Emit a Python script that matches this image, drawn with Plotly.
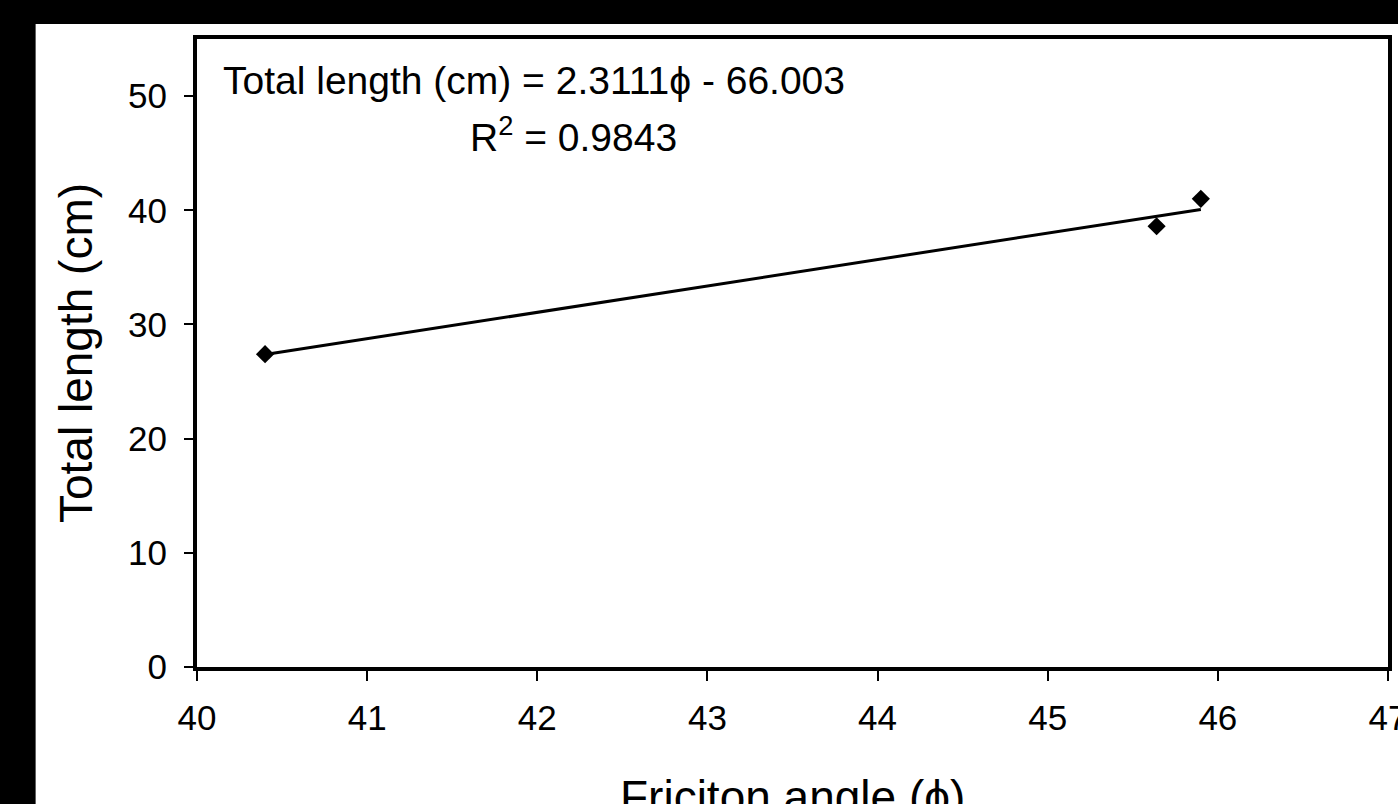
import plotly.graph_objects as go

# Data
friction_angle = [40.4, 45.64, 45.9]
total_length = [27.4, 38.6, 41.0]

# Trend line as reported in the chart
slope = 2.3111
intercept = -66.003
r_squared = 0.9843
trend_x = [min(friction_angle), max(friction_angle)]
trend_y = [slope * x + intercept for x in trend_x]

x_ticks = [40, 41, 42, 43, 44, 45, 46, 47]
y_ticks = [0, 10, 20, 30, 40, 50]

FONT = "Liberation Sans, Arial, sans-serif"

fig = go.Figure()
fig.add_trace(go.Scatter(x=trend_x, y=trend_y, mode="lines",
                         line=dict(color="black", width=3), showlegend=False,
                         hoverinfo="skip"))
fig.add_trace(go.Scatter(x=friction_angle, y=total_length, mode="markers",
                         marker=dict(symbol="diamond", size=14, color="black"),
                         showlegend=False))

fig.add_shape(type="rect", xref="paper", yref="paper",
              x0=-0.1355, x1=1.03, y0=-0.3, y1=1.0239,
              fillcolor="white", line=dict(width=0), layer="below")

fig.add_annotation(xref="paper", yref="paper", x=(221 - 196.5) / 1191.5,
                   y=(667 - 80) / 628, xanchor="left", yanchor="middle",
                   text="Total length (cm) = 2.3111ϕ - 66.003", showarrow=False,
                   font=dict(family=FONT, size=39, color="black"))
fig.add_annotation(xref="paper", yref="paper", x=(573 - 196.5) / 1191.5,
                   y=(667 - 134) / 628, xanchor="center", yanchor="middle",
                   text="R<sup>2</sup> = " + f"{r_squared:.4f}", showarrow=False,
                   font=dict(family=FONT, size=39, color="black"))
# x-axis title (partly cut by the bottom edge, as in the reference)
fig.add_annotation(xref="paper", yref="paper", x=(792 - 196.5) / 1191.5,
                   y=(667 - 797) / 628, xanchor="center", yanchor="middle",
                   text="Friciton angle (ϕ)", showarrow=False,
                   font=dict(family=FONT, size=46, color="black"))

fig.update_layout(
    width=1398, height=804,
    margin=dict(l=196.5, r=10, t=39, b=137),
    paper_bgcolor="black", plot_bgcolor="white",
    font=dict(family=FONT, color="black"),
    xaxis=dict(range=[40, 47], tickvals=x_ticks, ticks="outside", ticklen=10,
               tickwidth=1.5, tickcolor="black", showgrid=False, zeroline=False,
               showline=True, linewidth=4, linecolor="black", mirror=True,
               ticklabelstandoff=7, ticklabeloverflow="allow", automargin=False,
               tickfont=dict(family=FONT, size=35, color="black")),
    yaxis=dict(range=[0, 55], tickvals=y_ticks, ticks="outside", ticklen=9,
               tickwidth=1.5, tickcolor="black", showgrid=False, zeroline=False,
               showline=True, linewidth=4, linecolor="black", mirror=True,
               ticklabelstandoff=10, automargin=False,
               tickfont=dict(family=FONT, size=35, color="black"),
               title=dict(text="Total length (cm)", standoff=22,
                          font=dict(family=FONT, size=46, color="black"))),
)

fig.write_html("out.html")
